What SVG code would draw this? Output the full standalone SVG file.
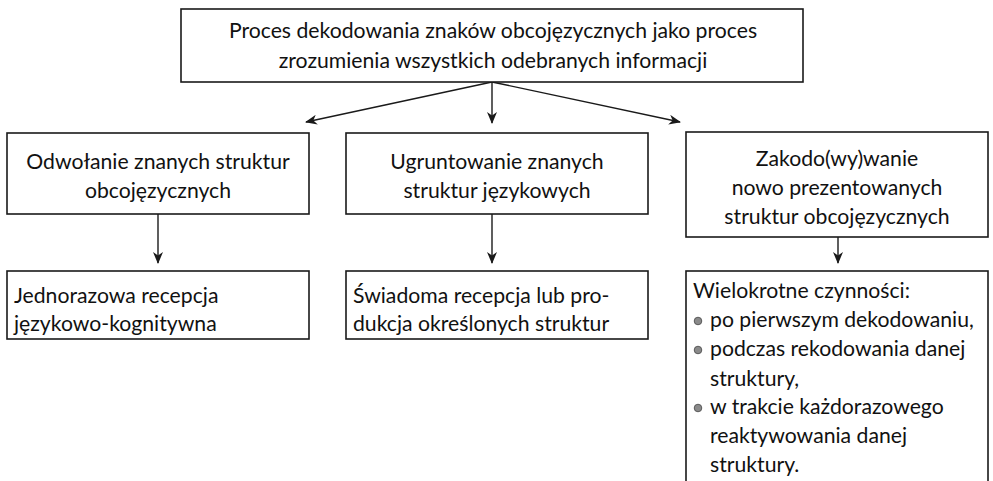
<svg xmlns="http://www.w3.org/2000/svg" width="993" height="481" viewBox="0 0 993 481">
  <style>
    .box { fill: #ffffff; stroke: #1a1a1a; stroke-width: 1.6; }
    .t { font-family: Lato, "Open Sans", "Noto Sans", sans-serif; font-size: 21.2px; fill: #111111; }
    .c { text-anchor: middle; }
    .wire { stroke: #1a1a1a; stroke-width: 1.4; fill: none; marker-end: url(#head); }
    .dot { fill: #8a8a8a; stroke: #444444; stroke-width: 0.8; }
  </style>
  <defs>
    <marker id="head" viewBox="0 0 12 10" refX="11" refY="5" markerWidth="12" markerHeight="10" markerUnits="userSpaceOnUse" orient="auto">
      <path d="M0,0 L12,5 L0,10 L3.5,5 z" fill="#1a1a1a"/>
    </marker>
  </defs>

  <rect width="993" height="481" fill="#ffffff"/>

  <g id="connectors">
    <line class="wire" x1="492" y1="82" x2="306" y2="122"/>
    <line class="wire" x1="492" y1="82" x2="492" y2="123"/>
    <line class="wire" x1="492" y1="82" x2="680" y2="122"/>
    <line class="wire" x1="158" y1="214" x2="158" y2="263"/>
    <line class="wire" x1="492" y1="214" x2="492" y2="263"/>
    <line class="wire" x1="838" y1="237" x2="838" y2="263"/>
  </g>

  <g id="root">
    <rect class="box" x="181" y="9" width="622" height="73"/>
    <text class="t c" x="493" y="38">Proces dekodowania znaków obcojęzycznych jako proces</text>
    <text class="t c" x="493" y="68">zrozumienia wszystkich odebranych informacji</text>
  </g>

  <g id="recall">
    <rect class="box" x="7" y="133" width="302" height="81"/>
    <text class="t c" x="158" y="169">Odwołanie znanych struktur</text>
    <text class="t c" x="158" y="198">obcojęzycznych</text>
  </g>

  <g id="consolidate">
    <rect class="box" x="346" y="133" width="302" height="81"/>
    <text class="t c" x="497" y="169">Ugruntowanie znanych</text>
    <text class="t c" x="497" y="198">struktur językowych</text>
  </g>

  <g id="encode">
    <rect class="box" x="686" y="132" width="302" height="105"/>
    <text class="t c" x="837" y="166">Zakodo(wy)wanie</text>
    <text class="t c" x="837" y="195">nowo prezentowanych</text>
    <text class="t c" x="837" y="224">struktur obcojęzycznych</text>
  </g>

  <g id="single-reception">
    <rect class="box" x="7" y="271" width="302" height="68"/>
    <text class="t" x="14" y="303">Jednorazowa recepcja</text>
    <text class="t" x="14" y="331">językowo-kognitywna</text>
  </g>

  <g id="conscious-reception">
    <rect class="box" x="346" y="271" width="302" height="68"/>
    <text class="t" x="353" y="303">Świadoma recepcja lub pro-</text>
    <text class="t" x="353" y="331">dukcja określonych struktur</text>
  </g>

  <g id="repeated-actions">
    <rect class="box" x="686" y="271" width="302" height="230"/>
    <text class="t" x="693" y="298">Wielokrotne czynności:</text>
    <circle class="dot" cx="698" cy="321" r="3.8"/>
    <text class="t" x="710" y="327">po pierwszym dekodowaniu,</text>
    <circle class="dot" cx="698" cy="350" r="3.8"/>
    <text class="t" x="710" y="356">podczas rekodowania danej</text>
    <text class="t" x="710" y="386">struktury,</text>
    <circle class="dot" cx="698" cy="408" r="3.8"/>
    <text class="t" x="710" y="414">w trakcie każdorazowego</text>
    <text class="t" x="710" y="443">reaktywowania danej</text>
    <text class="t" x="710" y="472">struktury.</text>
  </g>
</svg>
